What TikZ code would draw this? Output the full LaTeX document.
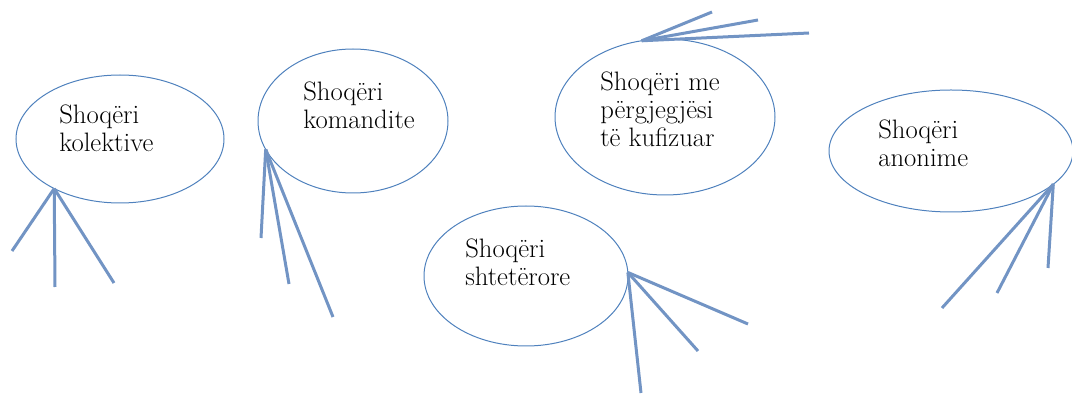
\documentclass[tikz,border=0pt]{standalone}
\usepackage{fontspec}
\usepackage{xcolor}
\usetikzlibrary{shapes.geometric}
\definecolor{ovalBlue}{RGB}{79,129,189}
\definecolor{legBlue}{RGB}{114,148,196}

\begin{document}
\begin{tikzpicture}[x=0.75pt, y=-0.75pt,
  oval/.style={draw=ovalBlue, line width=0.75pt, ellipse, inner sep=0pt, outer sep=0pt},
  txt/.style={anchor=north west, align=left, inner sep=0pt, font=\fontsize{20}{21}\selectfont},
  leg/.style={draw=legBlue, line width=2.25pt}]

%---------------- 尺寸參數 ----------------%
\def\px{0.75pt} % 1 像素

%---------------- 外框 ----------------%
\useasboundingbox (0,0) rectangle (1072,395);

%---------------- 橢圓 ----------------%
\node[oval, minimum width=208*\px, minimum height=128*\px] (kol) at (120,139) {};
\node[oval, minimum width=190*\px, minimum height=144*\px] (kom) at (353,121) {};
\node[oval, minimum width=220*\px, minimum height=156*\px] (kuf) at (665,117) {};
\node[oval, minimum width=204*\px, minimum height=140*\px] (sht) at (526,276) {};
\node[oval, minimum width=244*\px, minimum height=122*\px] (ano) at (951,151) {};

%---------------- 文字 ----------------%
\node[txt] (kolT) at (59,105) {Shoqëri\\kolektive};
\node[txt] (komT) at (303,82) {Shoqëri\\komandite};
\node[txt] (kufT) at (600,72) {Shoqëri me\\përgjegjësi\\të kufizuar};
\node[txt] (shtT) at (465,239) {Shoqëri\\shtetërore};
\node[txt] (anoT) at (878,120) {Shoqëri\\anonime};

%---------------- 線段 ----------------%
\foreach \x/\y [count=\i] in {12/251, 55/287, 114/283} {
  \coordinate (kol-\i) at (\x,\y);
  \draw[leg] (kol.217) -- (kol-\i);
}
\foreach \x/\y [count=\i] in {261/238, 289/284, 333/317} {
  \coordinate (kom-\i) at (\x,\y);
  \draw[leg] (kom.198) -- (kom-\i);
}
\foreach \x/\y [count=\i] in {712/12, 758/20, 809/33} {
  \coordinate (kuf-\i) at (\x,\y);
  \draw[leg] (kuf.107) -- (kuf-\i);
}
\foreach \x/\y [count=\i] in {748/324, 698/351, 641/393} {
  \coordinate (sht-\i) at (\x,\y);
  \draw[leg] (sht.2) -- (sht-\i);
}
\foreach \x/\y [count=\i] in {942/308, 997/293, 1048/268} {
  \coordinate (ano-\i) at (\x,\y);
  \draw[leg] (ano.342) -- (ano-\i);
}

\end{tikzpicture}
\end{document}
